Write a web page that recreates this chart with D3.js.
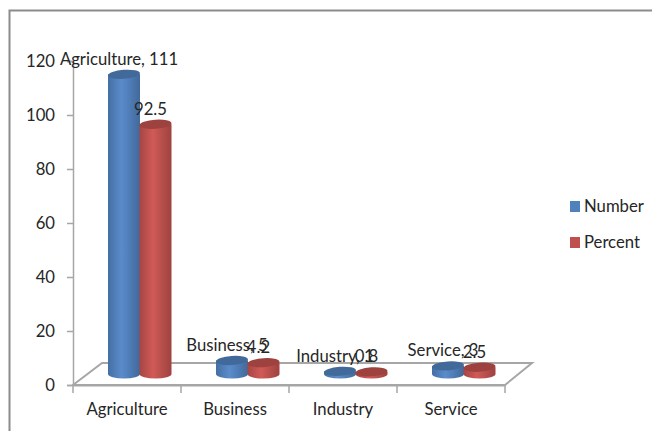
<!DOCTYPE html>
<html>
<head>
<meta charset="utf-8">
<script src="https://cdn.jsdelivr.net/npm/d3@7/dist/d3.min.js"></script>
<style>
html, body { margin: 0; padding: 0; background: #fff; }
text { font-family: Lato, "Open Sans", sans-serif; fill: #262626; }
</style>
</head>
<body>
<svg id="chart" width="652" height="431" style="display:block"></svg>
<script>
// Occupation counts and their share of the 120 respondents
const categories = ["Agriculture", "Business", "Industry", "Service"];
const seriesNames = ["Number", "Percent"];
const numberValues = [111, 5, 1, 3];
const percentValues = [92.5, 4.2, 0.8, 2.5];
const yTicks = [0, 20, 40, 60, 80, 100, 120];
const seriesColors = ["#4f81bd", "#c0504d"];

const svg = d3.select("#chart");
const fontSize = 16.7;

const x = d3.scaleBand().domain(categories).range([73, 505]);
const y = d3.scaleLinear().domain([0, 120]).range([385, 61]);

// Floor depth of the pseudo-3D plot
const depthX = 29, depthY = 22, barLift = 11, gridColor = "#a6a6a6";
const barW = 32, barRy = 4.5;

// Cylinder shading, dark at both edges and light toward the middle
const defs = svg.append("defs");
function shade(id, left, mid, right) {
  const g = defs.append("linearGradient").attr("id", id);
  g.append("stop").attr("offset", "0%").attr("stop-color", left);
  g.append("stop").attr("offset", "42%").attr("stop-color", mid);
  g.append("stop").attr("offset", "100%").attr("stop-color", right);
}
shade("side0", "#456fa3", "#5a8ccb", "#41699b");
shade("side1", "#a54644", "#d05a56", "#9e423f");

// Outer frame
svg.append("path")
  .attr("d", "M9.5,431V10.5H652")
  .attr("fill", "none").attr("stroke", "#8c8c8c").attr("stroke-width", 2);

// Floor parallelogram
svg.append("path")
  .attr("d", `M${x.range()[0]},${y(0)}L${x.range()[0] + depthX},${y(0) - depthY}H${x.range()[1] + depthX - 2}L${x.range()[1]},${y(0)}Z`)
  .attr("fill", "#fff").attr("stroke", gridColor).attr("stroke-width", 2);

// Value axis
const yAxis = svg.append("g")
  .attr("transform", `translate(${x.range()[0]},0)`)
  .call(d3.axisLeft(y).tickValues(yTicks).tickSize(6).tickPadding(12));
yAxis.selectAll("path,line").attr("stroke", gridColor).attr("stroke-width", 1.5);
yAxis.selectAll("text").attr("font-size", fontSize).style("font-family", "Lato");

// Category axis
const xAxis = svg.append("g")
  .attr("transform", `translate(0,${y(0)})`)
  .call(d3.axisBottom(x).tickSize(0).tickPadding(18));
xAxis.select("path").attr("stroke", gridColor).attr("stroke-width", 2);
xAxis.selectAll("text").attr("font-size", fontSize).style("font-family", "Lato");
xAxis.selectAll("line.sep")
  .data([...categories.map(c => x(c)), x.range()[1]])
  .join("line").attr("class", "sep")
  .attr("x1", d => d).attr("x2", d => d)
  .attr("y1", 0).attr("y2", 8)
  .attr("stroke", gridColor).attr("stroke-width", 1.5);

// Cylinders
const seriesData = [numberValues, percentValues];
const barCentre = (cat, s) => x(cat) + x.bandwidth() / 2 + (s === 0 ? -3 : 28.5);
const base = y(0) - barLift;
const topOf = v => y(v) - barLift;

seriesData.forEach((vals, s) => {
  const g = svg.append("g");
  categories.forEach((cat, i) => {
    const cx = barCentre(cat, s), t = topOf(vals[i]), rx = barW / 2;
    g.append("path")
      .attr("d", `M${cx - rx},${t}V${base}A${rx},${barRy} 0 0 0 ${cx + rx},${base}V${t}Z`)
      .attr("fill", `url(#side${s})`);
    g.append("ellipse")
      .attr("cx", cx).attr("cy", t).attr("rx", rx).attr("ry", barRy)
      .attr("transform", `rotate(-4 ${cx} ${t})`)
      .attr("fill", d3.color(seriesColors[s]).darker(0.55));
  });
});

// Value labels, sitting above each cylinder
seriesData.forEach((vals, s) => {
  svg.append("g").selectAll("text")
    .data(vals)
    .join("text")
    .attr("x", (d, i) => barCentre(categories[i], s) - 5)
    .attr("y", d => topOf(d) - 9.5)
    .attr("text-anchor", "middle")
    .attr("font-size", fontSize)
    .text((d, i) => s === 0 ? `${categories[i]}, ${d}` : d);
});

// Legend
const legend = svg.append("g").selectAll("g")
  .data(seriesNames)
  .join("g")
  .attr("transform", (d, i) => `translate(570,${206 + i * 36})`);
legend.append("rect")
  .attr("x", 0).attr("y", -5).attr("width", 10).attr("height", 11)
  .attr("fill", (d, i) => seriesColors[i]);
legend.append("text")
  .attr("x", 14).attr("y", 6)
  .attr("font-size", fontSize)
  .text(d => d);
</script>
</body>
</html>
